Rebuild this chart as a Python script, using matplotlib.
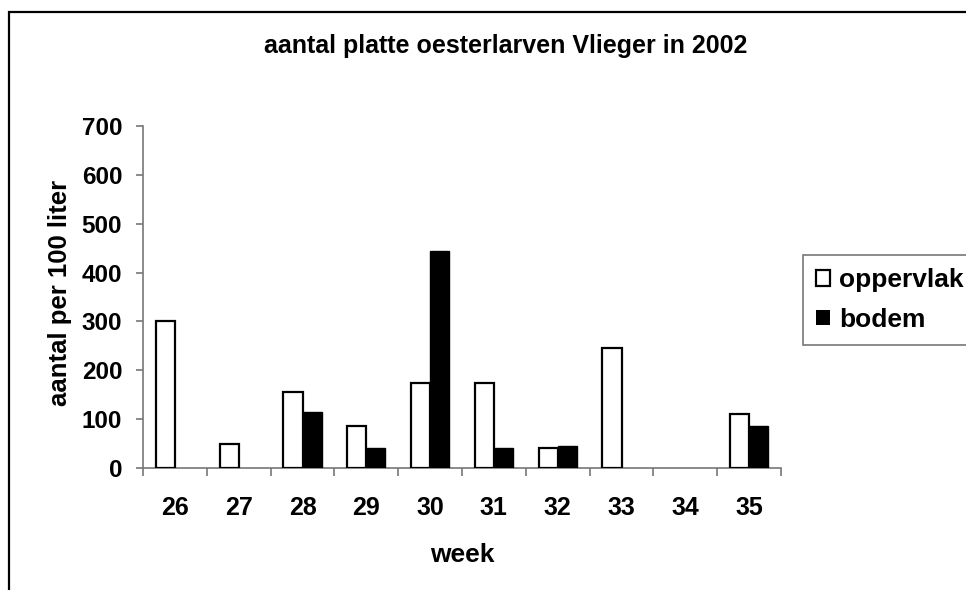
import matplotlib
matplotlib.use("Agg")
import matplotlib.pyplot as plt
from matplotlib.patches import Rectangle
import numpy as np

plt.rcParams['font.family'] = ['Liberation Sans', 'DejaVu Sans']
plt.rcParams['font.weight'] = 'bold'

weken = ['26', '27', '28', '29', '30', '31', '32', '33', '34', '35']
oppervlak = [300, 50, 155, 85, 175, 175, 40, 245, 0, 110]
bodem = [0, 0, 115, 40, 445, 40, 45, 0, 0, 85]

fig = plt.figure(figsize=(9.66, 5.9), dpi=100)
ax = fig.add_axes([143 / 966, 1 - 468 / 590, 638 / 966, 342 / 590])

x = np.arange(len(weken))
b = 0.3
ec_opp = ['black' if v > 0 else 'none' for v in oppervlak]
ec_bod = ['black' if v > 0 else 'none' for v in bodem]
ax.bar(x - b / 2, oppervlak, b, color='white', edgecolor=ec_opp, linewidth=1.6, label='oppervlak', zorder=3)
ax.bar(x + b / 2, bodem, b, color='black', edgecolor=ec_bod, linewidth=1.0, label='bodem', zorder=3)

ax.set_xlim(-0.5, len(weken) - 0.5)
ax.set_ylim(0, 700)
ax.set_yticks(range(0, 701, 100))
ax.set_xticks(np.arange(-0.5, len(weken)), [''] * (len(weken) + 1))
ax.set_xticks(x, weken, minor=True)

for s in ['top', 'right']:
    ax.spines[s].set_visible(False)
for s in ['left', 'bottom']:
    ax.spines[s].set_color('#777777')
    ax.spines[s].set_linewidth(1.2)

ax.tick_params(axis='y', direction='out', length=5, width=1.2, color='#777777', labelsize=17.5, pad=10)
ax.tick_params(axis='x', which='major', direction='out', length=6, width=1.2, color='#777777')
ax.tick_params(axis='x', which='minor', length=0, labelsize=18, pad=20)

ax.set_xlabel('week', fontsize=19, fontweight='bold')
ax.xaxis.set_label_coords(0.5, -0.275)
ax.xaxis.label.set_verticalalignment('baseline')
ax.set_ylabel('aantal per 100 liter', fontsize=18.5, fontweight='bold')
ax.yaxis.set_label_coords(-0.13, (468 - 293) / 342)
ax.yaxis.label.set_verticalalignment('center')

fig.text(506 / 966, 1 - 53 / 590, 'aantal platte oesterlarven Vlieger in 2002',
         ha='center', va='baseline', fontsize=18, fontweight='bold')

leg = fig.legend(loc='upper left', bbox_to_anchor=(803 / 966, 1 - 255 / 590),
                 fontsize=19, frameon=True, fancybox=False, edgecolor='#555555',
                 handlelength=0.53, handleheight=0.53, handletextpad=0.35,
                 borderpad=0.5, labelspacing=0.6, borderaxespad=0)
leg.get_frame().set_linewidth(1.2)

fig.patches.append(Rectangle((9 / 966, -0.1), 1.2, 1.1 - 12 / 590, transform=fig.transFigure,
                             fill=False, edgecolor='black', linewidth=1.6))

fig.savefig('out.png', dpi=100)
